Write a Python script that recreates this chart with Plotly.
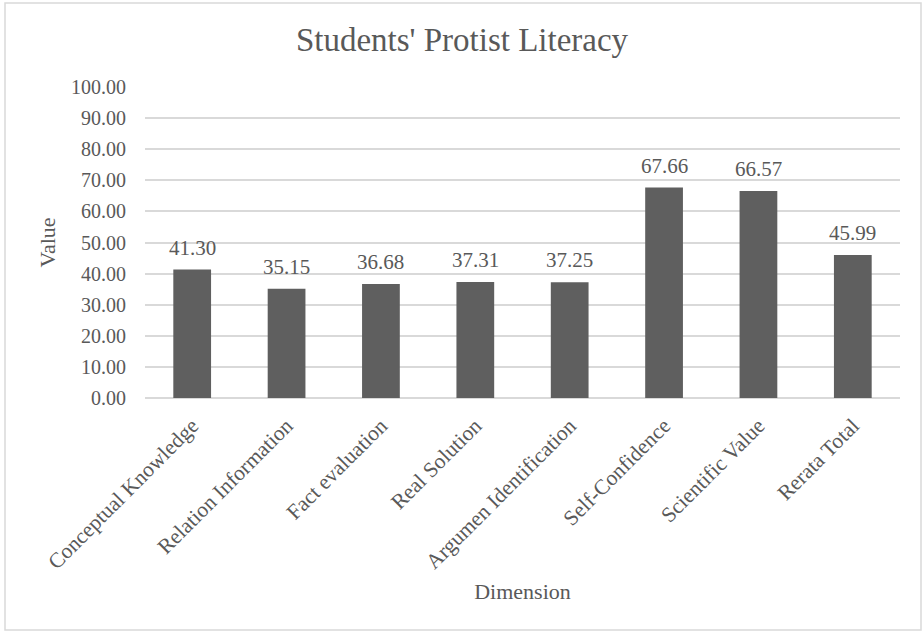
import plotly.graph_objects as go

categories = ["Conceptual Knowledge", "Relation Information", "Fact evaluation",
              "Real Solution", "Argumen Identification", "Self-Confidence",
              "Scientific Value", "Rerata Total"]
values = [41.30, 35.15, 36.68, 37.31, 37.25, 67.66, 66.57, 45.99]
y_ticks = [0, 10, 20, 30, 40, 50, 60, 70, 80, 90, 100]

FONT = "Liberation Serif, Times New Roman, serif"
TXT = "#595959"

W, H = 924, 632
L, R, T, B = 145, 24, 87, 234
pw, ph = W - L - R, H - T - B

def px(x):
    return (x - L) / pw

def py(y):
    return (H - B - y) / ph

fig = go.Figure(go.Bar(
    x=categories, y=values,
    marker=dict(color="#5f5f5f", line=dict(width=0)),
    cliponaxis=False,
))

for c, v in zip(categories, values):
    fig.add_annotation(x=c, y=v, text=f"{v:.2f}", showarrow=False,
                       xanchor="center", yanchor="bottom", yshift=8,
                       font=dict(family=FONT, size=21, color=TXT))

fig.update_layout(
    width=W, height=H,
    margin=dict(l=L, r=R, t=T, b=B),
    paper_bgcolor="white", plot_bgcolor="white",
    bargap=0.6,
    showlegend=False,
    title=dict(text="Students' Protist Literacy", x=0.5, xref="container",
               xanchor="center", y=1 - 39 / H, yanchor="middle",
               font=dict(family=FONT, size=33, color=TXT)),
    font=dict(family=FONT, color=TXT),
    xaxis=dict(
        tickangle=-45,
        tickfont=dict(family=FONT, size=21.5, color=TXT),
        showgrid=False, showline=False, ticks="",
        ticklabelstandoff=10,
        title=dict(text="Dimension", font=dict(family=FONT, size=22, color=TXT), standoff=10),
    ),
    yaxis=dict(
        range=[0, 100],
        tickvals=y_ticks,
        ticktext=[f"{v:.2f}" for v in y_ticks],
        tickfont=dict(family=FONT, size=20, color=TXT),
        showgrid=True, gridcolor="#d9d9d9", gridwidth=1.5,
        zeroline=True, zerolinecolor="#d9d9d9", zerolinewidth=1.5,
        showline=False, ticks="",
        ticklabelstandoff=18,
        title=dict(text="Value", font=dict(family=FONT, size=22, color=TXT), standoff=9),
    ),
    shapes=[dict(type="rect", xref="paper", yref="paper",
                 x0=px(5), x1=px(921), y0=py(630), y1=py(3),
                 line=dict(color="#d9d9d9", width=1.5), layer="below")],
)

fig.write_html("out.html")
